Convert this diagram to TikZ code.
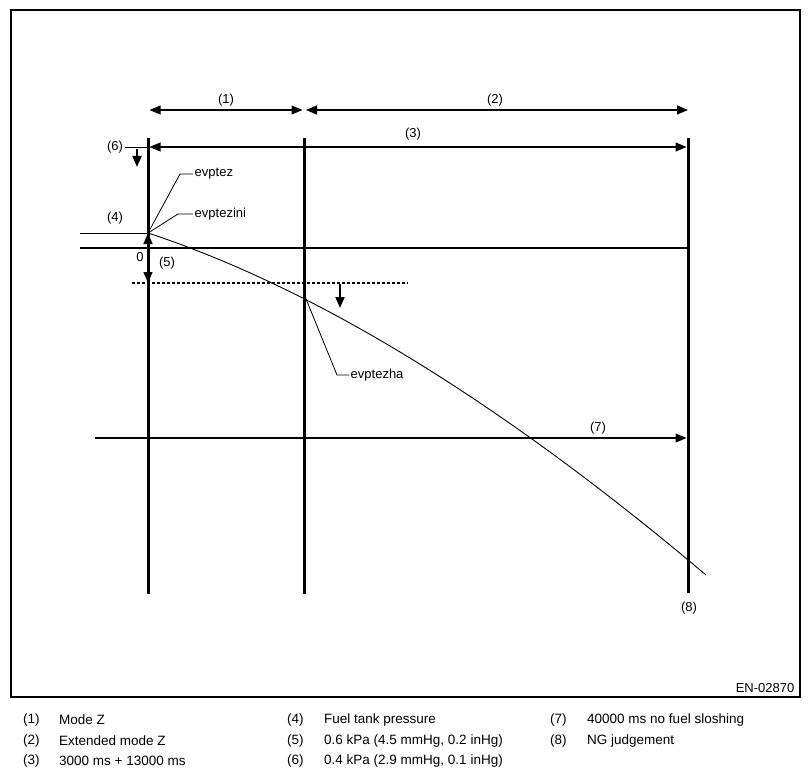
\documentclass[tikz,border=0pt]{standalone}
\usepackage{fontspec}
\setmainfont{Liberation Sans}
\usetikzlibrary{arrows.meta}
\begin{document}
\begin{tikzpicture}[x=1pt,y=-1pt,
  >={Triangle[length=11pt,width=9pt]},
  lbl/.style={font=\fontsize{13}{15}\selectfont, inner sep=1.5pt},
  leg/.style={font=\fontsize{13.5}{16}\selectfont, inner sep=0pt, anchor=west},
  bar/.style={line width=3pt},
  arr/.style={line width=1.2pt},
  darr/.style={line width=2pt},
  lead/.style={line width=0.8pt},
  curve/.style={line width=0.9pt}]
\useasboundingbox (0,0) rectangle (810,778);
\draw[line width=1.2pt] (11,10) rectangle (800,697);
% bars
\coordinate (b1t) at (148,138); \coordinate (b1b) at (148,594);
\coordinate (b2t) at (304,138); \coordinate (b2b) at (304,594);
\coordinate (b3t) at (688,138); \coordinate (b3b) at (688,593);
\draw[bar] (b1t) -- (b1b);
\draw[bar] (b2t) -- (b2b);
\draw[bar] (b3t) -- (b3b);
% top arrows
\coordinate (a1l) at (149.5,110); \coordinate (a1r) at (302.5,110);
\coordinate (a2l) at (306,110); \coordinate (a2r) at (688,110);
\coordinate (a3l) at (149.5,147); \coordinate (a3r) at (686.5,147);
\draw[arr,<->] (a1l) -- (a1r);
\draw[arr,<->] (a2l) -- (a2r);
\draw[arr,<->] (a3l) -- (a3r);
\node[lbl] (l1) at (226,100) {(1)};
\node[lbl] (l2) at (495,100) {(2)};
\node[lbl] (l3) at (413,134) {(3)};
% (6)
\node[lbl] (l6) at (115,147) {(6)};
\coordinate (b6) at (148,147);
\draw[lead] (l6.east) -- (b6);
\coordinate (d6a) at (137,149); \coordinate (d6b) at (137,167);
\draw[darr,->] (d6a) -- (d6b);
% (4)
\coordinate (p0) at (148,233);
\coordinate (l4s) at (80,233);
\node[lbl] (l4) at (115,218) {(4)};
\draw[lead] (l4s) -- (p0);
% zero line
\coordinate (z0) at (80,248); \coordinate (z1) at (688,248);
\draw[line width=2pt] (z0) -- (z1);
\node[lbl] (lz) at (140,257) {0};
% (5)
\coordinate (p5) at (148,283);
\draw[arr,<->] (p0) -- (p5);
\node[lbl] (l5) at (167,263) {(5)};
\coordinate (ds0) at (132,283); \coordinate (ds1) at (408,283);
\draw[line width=1.5pt, dash pattern=on 3pt off 2pt] (ds0) -- (ds1);
\coordinate (d5a) at (340,284); \coordinate (d5b) at (340,308);
\draw[darr,->] (d5a) -- (d5b);
% curve
\coordinate (pe) at (706,575);
\draw[curve] (p0) .. controls (330,293) and (520,418) .. (pe);
% leaders
\node[lbl,anchor=west] (ez) at (193,174) {evptez};
\coordinate (ezk) at (180,174);
\draw[lead] (p0) -- (ezk) -- (ez.west);
\node[lbl,anchor=west] (ezi) at (193,214) {evptezini};
\coordinate (ezik) at (178,214);
\draw[lead] (p0) -- (ezik) -- (ezi.west);
\coordinate (p1) at (304,294);
\node[lbl,anchor=west] (ezh) at (349,375) {evptezha};
\coordinate (ezhk) at (337,375);
\draw[lead] (p1) -- (ezhk) -- (ezh.west);
% (7)
\coordinate (a7l) at (95,438); \coordinate (a7r) at (686.5,438);
\draw[arr,->] (a7l) -- (a7r);
\node[lbl] (l7) at (598,428) {(7)};
\node[lbl] (l8) at (689,608) {(8)};
\node[lbl,anchor=east] (en) at (796,688) {EN-02870};
% legend
\node[leg] (n1) at (23,720) {(1)}; \node[leg] (t1) at (59,720) {Mode Z};
\node[leg] (n2) at (23,740.5) {(2)}; \node[leg] (t2) at (59,740.5) {Extended mode Z};
\node[leg] (n3) at (23,761) {(3)}; \node[leg] (t3) at (59,761) {3000 ms + 13000 ms};
\node[leg] (n4) at (287,720) {(4)}; \node[leg] (t4) at (324,720) {Fuel tank pressure};
\node[leg] (n5) at (287,740.5) {(5)}; \node[leg] (t5) at (324,740.5) {0.6 kPa (4.5 mmHg, 0.2 inHg)};
\node[leg] (n6) at (287,761) {(6)}; \node[leg] (t6) at (324,761) {0.4 kPa (2.9 mmHg, 0.1 inHg)};
\node[leg] (n7) at (550,720) {(7)}; \node[leg] (t7) at (587,720) {40000 ms no fuel sloshing};
\node[leg] (n8) at (550,740.5) {(8)}; \node[leg] (t8) at (587,740.5) {NG judgement};
\end{tikzpicture}
\end{document}
